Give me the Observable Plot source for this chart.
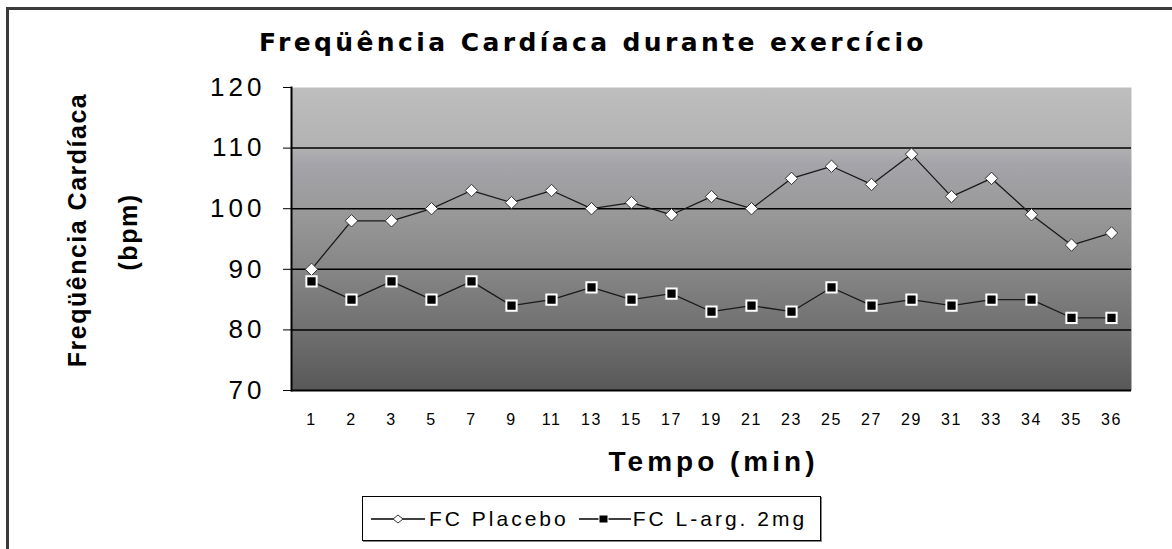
<!DOCTYPE html>
<html><head><meta charset="utf-8">
<script src="https://cdn.jsdelivr.net/npm/d3@7"></script>
<script src="https://cdn.jsdelivr.net/npm/@observablehq/plot@0.6"></script>
<style>
body{margin:0;background:#fff;overflow:hidden;width:1172px;height:549px;position:relative;font-family:"Liberation Sans",Arial,sans-serif}
#border{position:absolute;left:6px;top:7px;width:1400px;height:800px;border-top:3px solid #3a3a3a;border-left:3px solid #3a3a3a;box-sizing:border-box}
#title{position:absolute;left:0;top:28px;width:1186px;text-align:center;font-weight:bold;font-size:25px;letter-spacing:3.4px;color:#000;font-family:"DejaVu Sans","Liberation Sans",sans-serif}
#chart{position:absolute;left:0;top:70px}
#legend{position:absolute;left:362px;top:496px;width:459px;height:45px;border:1px solid #000;box-sizing:border-box;box-shadow:1px 1px 0 #888;display:flex;align-items:center;font-size:21px;letter-spacing:3px;color:#000}
#legend svg{display:block}
</style></head>
<body>
<div id="border"></div>
<div id="title">Freqüência Cardíaca durante exercício</div>
<div id="chart"></div>
<div id="legend"></div>
<script>
const minutes = ["1","2","3","5","7","9","11","13","15","17","19","21","23","25","27","29","31","33","34","35","36"];
const placebo = [90,98,98,100,103,101,103,100,101,99,102,100,105,107,104,109,102,105,99,94,96];
const larg = [88,85,88,85,88,84,85,87,85,86,83,84,83,87,84,85,84,85,85,82,82];
const yTicks = [70,80,90,100,110,120];
const gridValues = [80,90,100,110];
const seriesNames = ["FC Placebo","FC L-arg. 2mg"];
const yLabel = ["Freqüência Cardíaca","(bpm)"];
const xLabel = "Tempo (min)";

const data = minutes.map((t,i)=>({t, placebo: placebo[i], larg: larg[i]}));

const plot = Plot.plot({
  width: 1172, height: 410,
  marginTop: 17, marginBottom: 90, marginLeft: 291, marginRight: 41,
  style: {fontFamily: "Liberation Sans, Arial, sans-serif", background: "transparent", color: "#000"},
  x: {type: "point", domain: minutes, padding: 0.5},
  y: {domain: [70,120]},
  marks: [
    Plot.frame({fill: "url(#bggrad)", stroke: null}),
    Plot.ruleY(gridValues, {stroke: "#000", strokeWidth: 1.5}),
    Plot.ruleY([70], {stroke: "#000", strokeWidth: 2}),
    Plot.frame({anchor: "left", stroke: "#000", strokeWidth: 2}),
    Plot.axisY({ticks: yTicks, tickSize: 8, tickPadding: 18, fontSize: 26, label: null, tickFormat: d=>String(d)}),
    Plot.axisX({tickSize: 0, tickPadding: 23, fontSize: 16, label: null}),
    Plot.line(data, {x: "t", y: "placebo", stroke: "#1a1a1a", strokeWidth: 1.3}),
    Plot.line(data, {x: "t", y: "larg", stroke: "#1a1a1a", strokeWidth: 1.3}),
    Plot.dot(data, {x: "t", y: "placebo", symbol: "diamond2", r: 5.6, fill: "#fff", stroke: "#333", strokeWidth: 1}),
    Plot.dot(data, {x: "t", y: "larg", symbol: "square", r: 5.8, fill: "#000", stroke: "#fff", strokeWidth: 2}),
    Plot.text([xLabel], {frameAnchor: "bottom", lineAnchor: "middle", dy: 72, dx: 2, fontSize: 28, fontWeight: "bold", className: "xlab"}),
    Plot.text([yLabel[0]], {frameAnchor: "left", textAnchor: "middle", lineAnchor: "middle", rotate: -90, dx: -214, dy: -9, fontSize: 25, fontWeight: "bold", className: "ylab"}),
    Plot.text([yLabel[1]], {frameAnchor: "left", textAnchor: "middle", lineAnchor: "middle", rotate: -90, dx: -163, dy: -7, fontSize: 25, fontWeight: "bold", className: "ylab"})
  ]
});

// gradient background
const ns = "http://www.w3.org/2000/svg";
const defs = document.createElementNS(ns, "defs");
defs.innerHTML = `<linearGradient id="bggrad" x1="0" y1="0" x2="0" y2="1">
  <stop offset="0" stop-color="#bebebe"/>
  <stop offset="0.2" stop-color="#b2b2b2"/>
  <stop offset="0.25" stop-color="#a4a4aa"/>
  <stop offset="0.4" stop-color="#9a9a9a"/>
  <stop offset="0.6" stop-color="#868686"/>
  <stop offset="0.8" stop-color="#707070"/>
  <stop offset="1" stop-color="#585858"/>
</linearGradient>`;
plot.insertBefore(defs, plot.firstChild);
plot.querySelectorAll("[aria-label='y-axis tick label']").forEach(g=>g.setAttribute("font-size","26"));
plot.querySelectorAll("[aria-label='y-axis tick label'] text").forEach(t=>{t.style.letterSpacing="4px";t.style.fontSize="26px";});
plot.querySelectorAll("[aria-label='x-axis tick label'] text").forEach(t=>{t.style.letterSpacing="1.5px";t.style.fontSize="16px";});
plot.querySelectorAll(".xlab text").forEach(t=>t.style.letterSpacing="4px");
plot.querySelectorAll(".ylab text").forEach(t=>t.style.letterSpacing="1.5px");
document.getElementById("chart").appendChild(plot);

// legend
const lg = document.getElementById("legend");
const sw1 = `<svg width="60" height="20" style="margin-left:6px"><line x1="2" y1="10" x2="56" y2="10" stroke="#000" stroke-width="1.5"/><path d="M24,10 L29,6 L34,10 L29,14 Z" fill="#fff" stroke="#333" stroke-width="1"/></svg>`;
const sw2 = `<svg width="56" height="20" style="margin-left:8px"><line x1="2" y1="10" x2="54" y2="10" stroke="#000" stroke-width="1.5"/><rect x="22" y="6" width="9" height="8" fill="#000" stroke="#fff" stroke-width="1"/></svg>`;
lg.innerHTML = `${sw1}<span>${seriesNames[0]}</span>${sw2}<span>${seriesNames[1]}</span>`;
</script>
</body></html>
